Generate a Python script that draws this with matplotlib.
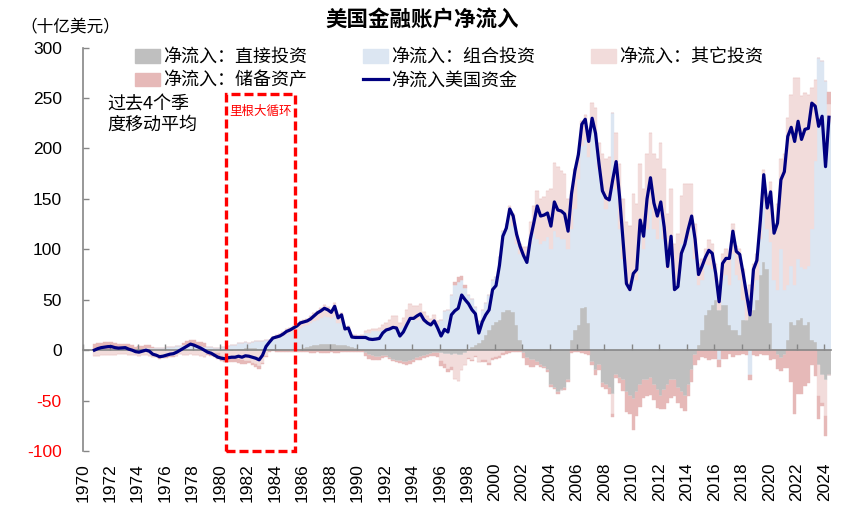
import numpy as np
import matplotlib
matplotlib.use("Agg")
import matplotlib.pyplot as plt
from matplotlib.patches import Rectangle, Patch
from matplotlib.lines import Line2D

plt.rcParams['font.family'] = ['Noto Sans CJK SC', 'DejaVu Sans']
plt.rcParams['axes.unicode_minus'] = False

# quarterly data, 4-quarter moving average, bn USD, from 1970 Q4 to 2024 Q2
start_year = 1970
start_quarter = 4

# 净流入美国资金 (line)
total = [
    0,
    1.5, 2.5, 3, 3.5,        # 1971
    3.5, 2.5, 2, 2.2,
    2.5, 1, 0, -1.5,
    -2, -1, 0, -1,
    -4, -5, -6.5, -6,        # 1975
    -5, -4, -3.5, -2,
    0, 2, 4, 6,
    5, 3.5, 2, 0,
    -2, -3, -5, -7,
    -8, -8.5, -7.5, -7,      # 1980
    -7, -6, -7, -5.6,
    -6, -7, -8, -9.6,
    -5, 3.6, 8, 12,
    13, 14, 16, 18.6,
    20, 22, 24, 27,          # 1985
    28, 29, 31, 34,
    37, 39, 41.5, 40,
    37.5, 43.5, 32, 35,
    21, 22, 13, 12.6,
    12.6, 12.6, 12.6, 11,    # 1990
    10.6, 11, 11.6, 17,
    20, 21, 22.6, 22,
    14, 18, 25, 31.5,
    31.5, 34, 36, 30,
    27, 25, 29, 22,          # 1995
    14, 20.6, 18, 35,
    39, 41.5, 54.7, 50,
    46, 40, 36, 17,
    28, 35, 40, 60,
    64, 84, 113, 121,        # 2000
    140, 133, 115, 103,
    94, 87, 110, 126,
    143, 133, 134, 136,
    123, 147, 139, 138,
    135, 118, 155, 178,      # 2005
    194, 224, 229, 207,
    230, 215, 185, 158,
    151, 149, 169, 187,
    152, 109, 66, 60,
    76, 80, 129, 113,        # 2010
    150, 171, 146, 133,
    147, 122, 83, 113,
    60, 63, 96, 105,
    120, 133, 110, 75,
    83, 92, 99, 96,          # 2015
    76, 48, 86, 91,
    91, 118, 98, 95,
    76, 55, 35, 80,
    89, 128, 174, 141,
    157, 116, 126, 169,      # 2020
    177, 212, 221, 207,
    227, 209, 219, 220,
    245, 242, 222, 232,
    182, 231,
]

# 净流入：直接投资
direct = [
    0,
    0, 0, 0, 0,
    0, 0, 0, 0,
    0, 0, 0, 0,
    0, 0, 0, 0,
    0, 0, 0, 0,
    0, 0, 0, 0,
    0, 0, 0, 0,
    0, 0, 0, 0,
    0, 0, -1, -1,
    -1, -1, -1, -1,
    0, 1, 1, 2,
    2, 2, 2, 1,
    1, 1, 1, 1,
    1, 1, 1, 1,
    1, 1, 1, 1,
    2, 3, 4, 5,
    5, 6, 6, 6,
    6, 6, 5, 5,
    5, 4, 3, 2,
    1, 0, -3, -5,
    -6, -7, -7, -6,
    -6, -8, -10, -11,
    -11, -12, -12, -11,
    -10, -8, -7, -6,
    -5, -4, -3, -3,
    -3, -4, -4, -5,
    -4, -5, -5, -3,
    0, 3, 5, 7,
    10, 15, 20, 25,
    28, 30, 38, 40,
    40, 38, 25, 10,
    -3, -8, -10, -10,
    -12, -15, -17, -20,
    -35, -38, -42, -40,
    -38, -30, 10, 20,
    25, 42, 43, 27,
    -12, -20, -15, -33,
    -35, -38, -43, -25,
    -28, -30, -42, -45,
    -48, -42, -35, -30,
    -30, -28, -35, -40,
    -45, -40, -35, -30,
    -30, -38, -42, -45,
    -35, -20, -5, 5,
    20, 35, 40, 45,
    50, 40, 45, 45,
    25, 20, 20, 15,
    30, 30, 35, 40,
    50, 75, 87, 80,
    27, 0, -5, -8,
    -5, 10, 28, 25,
    30, 32, 25, 28,
    10, 8, -15, -25,
    -30, -25,
]

# 净流入：组合投资
portfolio = [
    1,
    1, 1, 1, 1,
    1, 1, 2, 2,
    2, 2, 1, 1,
    1, 1, 2, 2,
    2, 2, 2, 2,
    3, 3, 3, 4,
    4, 5, 5, 5,
    5, 4, 4, 3,
    3, 3, 2, 2,
    3, 3, 4, 5,
    5, 6, 6, 6,
    5, 6, 7, 8,
    8, 9, 9, 10,
    10, 12, 13, 14.6,
    16, 17, 19, 21,
    22, 22, 23, 24,
    25, 26, 27.5, 27,
    25.5, 27.5, 22, 22,
    15, 16, 12, 11.6,
    13, 13.6, 16.6, 17,
    18.6, 19, 18.6, 20,
    20, 21, 22.6, 22,
    22, 24, 28, 32.5,
    30.5, 30, 32, 28,
    27, 25, 28, 25,
    30, 38.6, 40, 55,
    65, 68, 70, 62,
    55, 48, 38, 22,
    30, 32, 35, 45,
    45, 62, 80, 85,
    95, 85, 80, 85,
    92, 90, 105, 115,
    110, 105, 108, 112,
    100, 118, 112, 110,
    110, 100, 110, 120,
    145, 160, 165, 165,
    220, 215, 180, 160,
    140, 150, 235, 160,
    120, 90, 65, 60,
    75, 70, 115, 100,
    120, 140, 120, 110,
    130, 110, 80, 100,
    60, 70, 105, 110,
    110, 120, 90, 60,
    50, 50, 44, 35,
    20, -10, 25, 30,
    40, 75, 55, 55,
    20, 0, -25, 20,
    20, 35, 60, 40,
    80, 70, 60, 100,
    60, 55, 55, 40,
    60, 50, 55, 55,
    110, 180, 290, 287,
    267, 226,
]

# 净流入：其它投资
other = [
    -6,
    -6, -5, -5, -5,
    -5, -5, -4, -4,
    -4, -5, -5, -5,
    -6, -5, -5, -6,
    -7, -7, -8, -8,
    -7, -6, -6, -6,
    -4, -5, -5, -4,
    -5, -4.5, -6, -7,
    -4, -3, -2, -2,
    -5, -6, -6.5, -7,
    -8, -9, -10, -10.6,
    -11, -13, -14, -15.6,
    -13, -5.4, -1, 2,
    4, 3, 4, 5,
    5, 6, 6, 7,
    6, 6, 7, 8,
    9, 10, 11, 10,
    8, 13, 8, 10,
    3, 4, 0, 1,
    0, 1, 2, 3,
    2, 2, 3, 5,
    7, 9, 11, 12,
    5, 8, 12, 13,
    13, 14, 14, 10,
    7, 6, 7, 4,
    -8, -10, -15, -12,
    -25, -26, -14.3, -12,
    -8, -10, -6, -12,
    -10, -10, -13, -8,
    -7, -6, -3, 0,
    8, 12, 12, 10,
    10, 12, 22, 28,
    48, 45, 44, 46,
    60, 68, 70, 68,
    65, 50, 38, 40,
    26, 25, 25, 20,
    25, 25, 25, 35,
    50, 42, -20, 55,
    65, 60, 62, 63,
    80, 75, 70, 60,
    75, 75, 75, 80,
    75, 70, 55, 60,
    45, 45, 48, 55,
    55, 45, 35, 20,
    20, 15, 25, 25,
    15, 25, 25, 25,
    30, 30, 28, 30,
    30, 30, 30, 25,
    25, 22, 32, 26,
    60, 55, 85, 90,
    135, 165, 170, 205,
    180, 170, 175, 170,
    140, 80, -30, -27,
    -35, 18,
]

# 净流入：储备资产
reserves = [
    5,
    6.5, 6.5, 7, 7.5,
    7.5, 6.5, 4, 4.2,
    4.5, 4, 4, 2.5,
    3, 3, 3, 3,
    1, 0, -0.5, 0,
    -1, -1, -0.5, 0,
    0, 2, 4, 5,
    5, 4, 4, 4,
    -1, -3, -4, -6,
    -5, -4.5, -4, -4,
    -4, -4, -4, -3,
    -2, -2, -3, -3,
    -1, -1, -1, -1,
    -2, -2, -2, -2,
    -2, -2, -2, -2,
    -2, -2, -3, -3,
    -2, -3, -3, -3,
    -2, -3, -3, -2,
    -2, -2, -2, -2,
    -1.4, -2, -3, -4,
    -4, -3, -3, -2,
    -1, -1, -1, -1,
    -2, -2, -3, -3,
    -2, -2, -3, -2,
    -2, -2, -3, -4,
    -5, -4, -3, -3,
    3, 4.5, 4, 3,
    -1, -1, -1, 0,
    -2, -2, -2, -2,
    -2, -2, -2, -4,
    -3, -2, -2, -2,
    -5, -7, -7, -7,
    -3, -2, -1, -2,
    -2, -1, -1, 0,
    -2, -2, -3, -2,
    -2, -3, -4, -5,
    -3, -5, -5, -4,
    -4, -5, -3, -3,
    -5, -11, -19, -18,
    -31, -23, -21, -17,
    -15, -16, -14, -17,
    -13, -18, -17, -17,
    -15, -14, -15, -15,
    -10, -12, -10, -10,
    -7, -8, -10, -9,
    -9, -7, -9, -9,
    -4, -7, -5, -5,
    -4, -5, -5, -5,
    -6, -4, -5, -5,
    -10, -9, -14, -13,
    -13, -18, -32, -63,
    -43, -43, -36, -33,
    -15, -26, -23, -3,
    -20, 12,
]

labels = ['净流入：直接投资', '净流入：组合投资', '净流入：其它投资', '净流入：储备资产']
colors = ['#BFBFBF', '#DCE6F2', '#F2DCDB', '#E6B9B8']
line_color = '#000080'
axis_gray = '#868686'

n = len(total)
t = start_year + (start_quarter - 1 + np.arange(n)) / 4 + 0.1

fig = plt.figure(figsize=(8.57, 5.17), dpi=100)
ax = fig.add_axes([0.0965, 0.1277, 0.8732, 0.7801])

pos_base = np.zeros(n)
neg_base = np.zeros(n)
for vals, c in zip([direct, portfolio, other, reserves], colors):
    v = np.array(vals, dtype=float)
    pos = np.where(v > 0, v, 0)
    neg = np.where(v < 0, v, 0)
    ax.bar(t, pos, width=0.25, bottom=pos_base, color=c, edgecolor=c, linewidth=0.3, zorder=1)
    ax.bar(t, neg, width=0.25, bottom=neg_base, color=c, edgecolor=c, linewidth=0.3, zorder=1)
    pos_base += pos
    neg_base += neg

ax.plot(t, total, color=line_color, lw=2.3, zorder=3, solid_joinstyle='round')

ax.set_xlim(1970, 2024.5)
ax.set_ylim(-100, 300)

for s in ['top', 'right']:
    ax.spines[s].set_visible(False)
ax.spines['bottom'].set_position(('data', 0))
for s in ['bottom', 'left']:
    ax.spines[s].set_color(axis_gray)
    ax.spines[s].set_linewidth(1.2)

years = list(range(1970, 2025, 2))
ax.set_xticks(years)
ax.tick_params(axis='x', direction='in', length=4, width=1, color=axis_gray, labelbottom=False)

yvals = list(range(-100, 301, 50))
ax.set_yticks(yvals, labels=[str(v) for v in yvals])
ax.tick_params(axis='y', direction='in', length=4.5, width=1, color=axis_gray, pad=15, labelsize=12.5)
for lab, v in zip(ax.get_yticklabels(), yvals):
    lab.set_fontfamily('Liberation Sans')
    lab.set_color('red' if v < 0 else 'black')

sec = ax.secondary_xaxis('bottom')
sec.set_xticks(years, labels=[str(y) for y in years], rotation=90)
sec.tick_params(length=0, pad=8.5, labelsize=12.5)
sec.spines['bottom'].set_visible(False)
for lab in sec.get_xticklabels():
    lab.set_fontfamily('Liberation Sans')

# Reagan period box
ax.add_patch(Rectangle((1980.45, -100), 5.02, 354, fill=False, edgecolor='red',
                       linewidth=2.4, linestyle=(0, (2.7, 1.2)), clip_on=False, zorder=4))
ax.text(1982.98, 237, '里根大循环', color='red', fontsize=9, ha='center', va='center')

fig.text(0.4925, 0.961, '美国金融账户净流入', ha='center', va='center', fontsize=15.5, weight='bold')
fig.text(20 / 857, 1 - 28 / 517, '（十亿美元）', ha='left', va='center', fontsize=12)
fig.text(107 / 857, 1 - 96 / 517, '过去4个季\n度移动平均', ha='left', va='top', fontsize=13,
         style='italic', linespacing=1.15)

handles = [Patch(color=colors[0]), Patch(color=colors[3]), Patch(color=colors[1]),
           Line2D([], [], color=line_color, lw=2.3), Patch(color=colors[2])]
leg_labels = [labels[0], labels[3], labels[1], '净流入美国资金', labels[2]]
fig.legend(handles, leg_labels, ncol=3, loc='upper left', bbox_to_anchor=(135 / 857, 1 - 48 / 517),
           frameon=False, fontsize=13, handlelength=1.4, handleheight=0.8, handletextpad=0.15,
           columnspacing=3.1, labelspacing=0.32, borderaxespad=0, borderpad=0)

fig.savefig('out.png', dpi=100)
